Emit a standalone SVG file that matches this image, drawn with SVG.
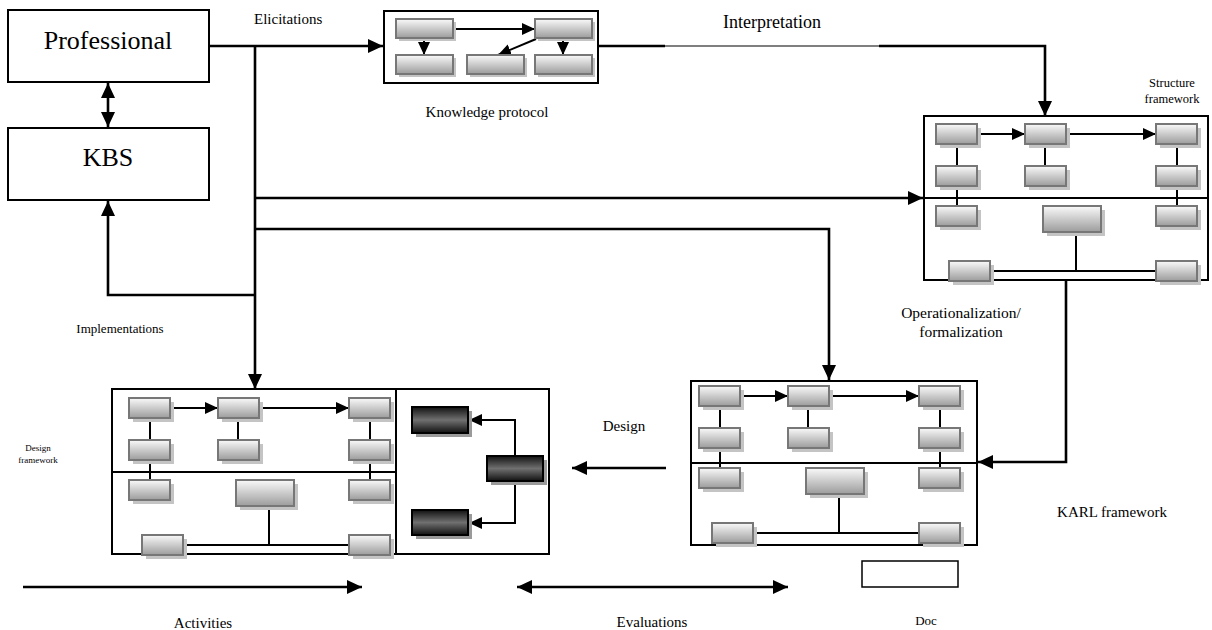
<svg xmlns="http://www.w3.org/2000/svg" xmlns:xlink="http://www.w3.org/1999/xlink" width="1212" height="630" viewBox="0 0 1212 630" font-family="'Liberation Serif', 'Times New Roman', serif">
<style>
text{font-family:'Liberation Serif','Times New Roman',serif;fill:#000}
.big{font-size:26px}
.lbl{font-size:15px}
.node{fill:#fff;stroke:#000;stroke-width:2}
.frame{fill:#fff;stroke:#000;stroke-width:2}
.div{stroke:#000;stroke-width:2;fill:none}
.conn{fill:none;stroke:#000;stroke-width:2.6}
.thin{fill:none;stroke:#000;stroke-width:1.2}
.ic{fill:none;stroke:#000;stroke-width:2}
.sb{fill:url(#gl);stroke:#777;stroke-width:2}
.sh{fill:#c4c4c4}
.db{fill:url(#gd);stroke:#000;stroke-width:2}
.dsh{fill:#9a9a9a}
</style>
<defs>
<linearGradient id="gl" x1="0" y1="0" x2="0" y2="1">
<stop offset="0" stop-color="#fafafa"/>
<stop offset="1" stop-color="#9c9c9c"/>
</linearGradient>
<linearGradient id="gd" x1="0" y1="0" x2="0" y2="1">
<stop offset="0" stop-color="#111"/>
<stop offset="0.5" stop-color="#707070"/>
<stop offset="1" stop-color="#111"/>
</linearGradient>
<marker id="ah" markerUnits="userSpaceOnUse" markerWidth="16" markerHeight="14" refX="15" refY="7" orient="auto-start-reverse" viewBox="0 0 16 14">
<path d="M0,0 L15,7 L0,14 z" fill="#000"/>
</marker>
<marker id="ahs" markerUnits="userSpaceOnUse" markerWidth="14" markerHeight="12" refX="13" refY="6" orient="auto-start-reverse" viewBox="0 0 14 12">
<path d="M0,0 L13,6 L0,12 z" fill="#000"/>
</marker>
<g id="sbox">
<rect class="sh" x="4" y="4" width="41" height="20"/>
<rect class="sb" x="0" y="0" width="41" height="20"/>
</g>
<g id="fw">
<path class="ic" d="M33,28 V90 M121,28 V50 M253,28 V90 M152,116 V155 M66,155 H232"/>
<path class="ic" d="M53,18 H101" marker-end="url(#ahs)"/>
<path class="ic" d="M142,18 H232" marker-end="url(#ahs)"/>
<use xlink:href="#sbox" x="12" y="8"/>
<use xlink:href="#sbox" x="101" y="8"/>
<use xlink:href="#sbox" x="232" y="8"/>
<use xlink:href="#sbox" x="12" y="50"/>
<use xlink:href="#sbox" x="101" y="50"/>
<use xlink:href="#sbox" x="232" y="50"/>
<use xlink:href="#sbox" x="12" y="90"/>
<use xlink:href="#sbox" x="232" y="90"/>
<rect class="sh" x="123" y="94" width="58" height="26"/>
<rect class="sb" x="119" y="90" width="58" height="26"/>
<use xlink:href="#sbox" x="25" y="145"/>
<use xlink:href="#sbox" x="232" y="145"/>
</g>
</defs>

<g id="connectors">
<path class="conn" d="M209,46 H383" marker-end="url(#ah)"/>
<path class="conn" d="M255,46 V389" marker-end="url(#ah)"/>
<path class="conn" d="M255,198 H923" marker-end="url(#ah)"/>
<path class="conn" d="M255,229 H829 V380" marker-end="url(#ah)"/>
<path class="conn" d="M255,295 H108 V201" marker-end="url(#ah)"/>
<path class="conn" d="M108,83 V127" marker-start="url(#ah)" marker-end="url(#ah)"/>
<path class="conn" d="M598,46 H665"/>
<path class="thin" d="M665,46 H879"/>
<path class="conn" d="M879,46 H1045 V116" marker-end="url(#ah)"/>
<path class="conn" d="M1066,280 V462 H978" marker-end="url(#ah)"/>
<path class="conn" d="M666,468 H572" marker-end="url(#ah)"/>
<path class="conn" d="M23,587 H362" marker-end="url(#ah)"/>
<path class="conn" d="M517,587 H788" marker-start="url(#ah)" marker-end="url(#ah)"/>
</g>

<g id="professional">
<rect class="node" x="8" y="10" width="201" height="72"/>
<text class="big" x="108" y="49" text-anchor="middle">Professional</text>
</g>
<g id="kbs">
<rect class="node" x="8" y="128" width="201" height="72"/>
<text class="big" x="108" y="166" text-anchor="middle">KBS</text>
</g>

<g id="knowledge-protocol">
<rect class="frame" x="384" y="11" width="214" height="72"/>
<path class="ic" d="M424,38 V55" marker-end="url(#ahs)"/>
<path class="ic" d="M563,38 V55" marker-end="url(#ahs)"/>
<path class="ic" d="M453,29 H535" marker-end="url(#ahs)"/>
<path class="ic" d="M536,39 L498,55" marker-end="url(#ahs)"/>
<rect class="sh" x="399" y="22" width="57" height="19"/><rect class="sb" x="396" y="19" width="57" height="19"/>
<rect class="sh" x="538" y="22" width="57" height="19"/><rect class="sb" x="535" y="19" width="57" height="19"/>
<rect class="sh" x="399" y="58" width="57" height="19"/><rect class="sb" x="396" y="55" width="57" height="19"/>
<rect class="sh" x="470" y="58" width="57" height="19"/><rect class="sb" x="467" y="55" width="57" height="19"/>
<rect class="sh" x="538" y="58" width="57" height="19"/><rect class="sb" x="535" y="55" width="57" height="19"/>
<text class="lbl" x="487" y="117" text-anchor="middle">Knowledge protocol</text>
</g>

<g id="structure-framework">
<rect class="frame" x="924" y="116" width="284" height="164"/>
<path class="div" d="M924,198 H1208"/>
<use xlink:href="#fw" x="924" y="116"/>
<text x="1172" y="87" text-anchor="middle" font-size="12.5">Structure</text>
<text x="1172" y="103" text-anchor="middle" font-size="12.5">framework</text>
</g>

<g id="karl-framework">
<rect class="frame" x="691" y="381" width="286" height="164"/>
<path class="div" d="M691,463 H977"/>
<use xlink:href="#fw" x="687" y="378"/>
<text class="lbl" x="1112" y="517" text-anchor="middle">KARL framework</text>
</g>

<g id="design-framework">
<rect class="frame" x="112" y="389" width="437" height="165"/>
<path class="div" d="M112,472 H396 M396,389 V554"/>
<use xlink:href="#fw" x="117" y="390"/>
<path class="ic" d="M515,456 V420 H469" marker-end="url(#ahs)"/>
<path class="ic" d="M515,481 V523 H469" marker-end="url(#ahs)"/>
<rect class="dsh" x="416" y="411" width="56" height="26"/><rect class="db" x="412" y="407" width="56" height="26"/>
<rect class="dsh" x="491" y="460" width="56" height="25"/><rect class="db" x="487" y="456" width="56" height="25"/>
<rect class="dsh" x="416" y="514" width="56" height="25"/><rect class="db" x="412" y="510" width="56" height="25"/>
<text x="38" y="451" text-anchor="middle" font-size="9">Design</text>
<text x="38" y="463" text-anchor="middle" font-size="9">framework</text>
</g>

<g id="doc">
<rect x="862" y="561" width="96" height="26" fill="#fff" stroke="#000" stroke-width="1.5"/>
<text x="926" y="625" text-anchor="middle" font-size="13">Doc</text>
</g>

<g id="labels">
<text class="lbl" x="254" y="24">Elicitations</text>
<text x="772" y="28" text-anchor="middle" font-size="18">Interpretation</text>
<text x="120" y="333" text-anchor="middle" font-size="13">Implementations</text>
<text class="lbl" x="624" y="431" text-anchor="middle">Design</text>
<text x="961" y="318" text-anchor="middle" font-size="15.5">Operationalization/</text>
<text x="961" y="337" text-anchor="middle" font-size="15.5">formalization</text>
<text class="lbl" x="203" y="628" text-anchor="middle">Activities</text>
<text class="lbl" x="652" y="627" text-anchor="middle">Evaluations</text>
</g>
</svg>
